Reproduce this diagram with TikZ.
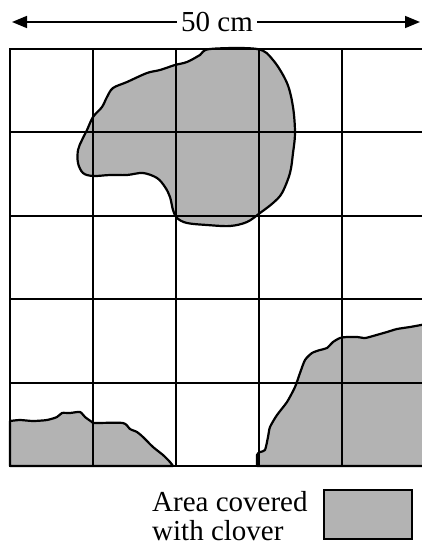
\documentclass[tikz,border=0pt]{standalone}
\usepackage{fontspec}
\setmainfont{Liberation Serif}
\usetikzlibrary{arrows.meta}
\definecolor{clover}{RGB}{179,179,179}
\tikzset{
  gridline/.style={line width=2.2pt, black},
  blob/.style={fill=clover, draw=black, line width=2.2pt, line join=round},
  dimline/.style={line width=1.6pt, black},
  lbl/.style={font=\fontsize{29}{31}\selectfont, inner sep=0pt, text=black},
}
\begin{document}
\begin{tikzpicture}[x=1pt, y=-1pt]
\useasboundingbox (0,0) rectangle (421,545);
% top clover patch
\draw[blob] plot[smooth cycle, tension=0.55] coordinates {
 (210,49) (257,49) (273,60) (287,83) (293,107) (295,133) (293,153) (290,173)
 (282,193) (273,203) (260,213) (247,222) (230,226) (207,225) (187,223)
 (177,218) (173,210) (170,197) (165,187) (157,178) (143,173) (127,175)
 (110,175) (93,176) (83,173) (78,163) (78,150) (82,140) (87,130) (93,117)
 (102,107) (107,97) (113,88) (127,82) (147,73) (160,70) (175,65) (187,62) (200,55)};
% bottom-left patch
\draw[blob] (10,466) -- plot[smooth, tension=0.4] coordinates {
 (10,421) (20,420) (33,421) (47,420) (57,417) (62,413) (70,413) (80,412)
 (85,417) (92,422) (95,423) (123,423) (130,429) (137,432) (143,437)
 (153,447) (163,455) (170,462) (173,466)} -- cycle;
% bottom-right patch
\draw[blob] (426,466) -- plot[smooth, tension=0.4] coordinates {
 (257,466) (257,455) (260,452) (265,450) (268,437) (270,427) (277,415)
 (287,402) (295,387) (300,373) (305,360) (312,353) (320,350) (327,348)
 (333,342) (340,338) (347,337) (357,337) (365,338) (373,336) (387,332)
 (397,329) (410,327) (421,325) (426,324)} -- cycle;
% grid
\foreach \x in {10,93,176,259,342,425} \draw[gridline] (\x,49) -- (\x,466);
\foreach \y in {49,132,216,299,383,466} \draw[gridline] (9,\y) -- (426,\y);
% dimension
\node[lbl] (dim) at (217,22) {50 cm};
\coordinate (dimL) at (12,22);
\coordinate (dimR) at (420,22);
\draw[dimline, -{Triangle[length=15pt,width=12pt]}] ([xshift=-4pt]dim.west) -- (dimL);
\draw[dimline, -{Triangle[length=15pt,width=12pt]}] ([xshift=4pt]dim.east) -- (dimR);
% legend
\node[lbl, anchor=base west, align=left] (leg1) at (152,511) {Area covered};
\node[lbl, anchor=base west, align=left] (leg2) at (152,540) {with clover};
\node[fill=clover, draw=black, line width=2pt, minimum width=88pt, minimum height=49pt, inner sep=0pt] (legbox) at (367.5,514) {};
\end{tikzpicture}
\end{document}
